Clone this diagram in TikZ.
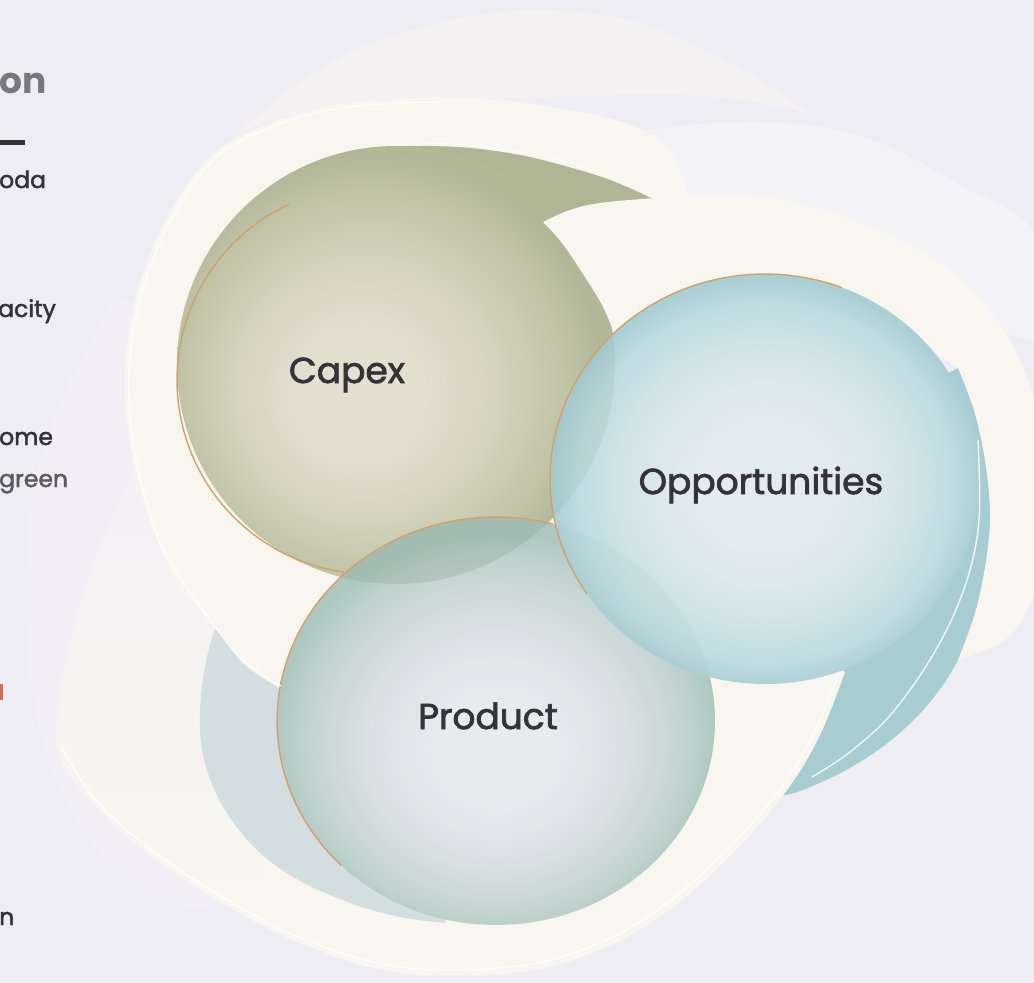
\documentclass[tikz,border=0pt]{standalone}
\usepackage{fontspec}
\setmainfont{Poppins}
\newfontfamily\labelfont{Poppins}[FakeBold=2]
\usetikzlibrary{fadings}

% palette
\definecolor{bg}{RGB}{239,237,244}
\definecolor{bglight}{RGB}{243,241,246}
\definecolor{faintpink}{RGB}{244,241,243}
\definecolor{glow}{RGB}{250,249,251}
\definecolor{cream}{RGB}{248,246,239}
\definecolor{capexL}{RGB}{227,224,208}
\definecolor{capexM}{RGB}{212,211,190}
\definecolor{capexD}{RGB}{192,195,166}
\definecolor{capexE}{RGB}{178,183,152}
\definecolor{capextail}{RGB}{176,181,150}
\definecolor{capexover}{RGB}{125,150,132}
\definecolor{oppL}{RGB}{226,236,240}
\definecolor{oppM}{RGB}{212,229,234}
\definecolor{oppD}{RGB}{190,219,225}
\definecolor{oppE}{RGB}{170,207,213}
\definecolor{oppshadow}{RGB}{167,205,211}
\definecolor{prodL}{RGB}{232,234,238}
\definecolor{prodM}{RGB}{216,224,226}
\definecolor{prodD}{RGB}{192,210,206}
\definecolor{prodE}{RGB}{174,200,193}
\definecolor{prodover}{RGB}{150,175,170}
\definecolor{prodshadow}{RGB}{211,222,224}
\definecolor{rim}{RGB}{212,160,104}
\definecolor{ink}{RGB}{52,52,56}
\definecolor{inkgrey}{RGB}{120,119,123}
\definecolor{sliver}{RGB}{205,110,90}

\pgfdeclareradialshading{capexshade}{\pgfpoint{-5bp}{-4bp}}{%
  color(0bp)=(capexL); color(6bp)=(capexL); color(15bp)=(capexM);
  color(22bp)=(capexD); color(26bp)=(capexE); color(50bp)=(capexE)}
\pgfdeclareradialshading{oppshade}{\pgfpoint{0bp}{-1bp}}{%
  color(0bp)=(oppL); color(8bp)=(oppL); color(16bp)=(oppM);
  color(22bp)=(oppD); color(25bp)=(oppE); color(50bp)=(oppE)}
\pgfdeclareradialshading{prodshade}{\pgfpoint{0bp}{-4bp}}{%
  color(0bp)=(prodL); color(7bp)=(prodL); color(15bp)=(prodM);
  color(22bp)=(prodD); color(25bp)=(prodE); color(50bp)=(prodE)}

\tikzfading[name=fadedown, top color=transparent!0, bottom color=transparent!100]

% outline of the cream band that wraps under the Product disc
\def\prodband{plot[smooth, tension=0.6] coordinates {(135,470) (95,560) (68,650) (57,747) (90,800) (143,850) (217,900) (300,943) (400,973) (520,972) (600,950) (667,912) (733,853) (787,790) (820,735) (845,672)}
  -- (800,640) -- (700,640) -- (600,700) -- (400,700) -- (280,650) -- (200,560) -- cycle}

\begin{document}
\begin{tikzpicture}[x=1pt, y=-1pt,
  lbl/.style={font=\labelfont\fontsize{36}{40}\selectfont, text=ink, inner sep=0pt, anchor=base},
  frag/.style={font=\labelfont\fontsize{23.5}{27}\selectfont, text=ink, inner sep=0pt, anchor=base west},
  rimline/.style={draw=rim, line width=1.4pt},
  gleam/.style={draw=white, line width=1.4pt, opacity=0.85},
  smoothy/.style={smooth, tension=0.6}]
\useasboundingbox (0,0) rectangle (1034,983);
\clip (0,0) rectangle (1034,983);
\fill[bg] (0,0) rectangle (1034,983);

% soft lighter haze on the left
\fill[bglight, opacity=0.5] plot[smooth cycle, tension=0.6] coordinates {(130,300) (75,370) (38,470) (25,580) (32,690) (60,790) (120,870) (220,900) (240,700) (170,480)};

% faint crescent across the top
\fill[faintpink] plot[smoothy] coordinates {(235,135) (300,82) (368,45) (450,20) (530,10) (620,18) (700,48) (760,80) (809,113)}
  -- plot[smoothy] coordinates {(809,113) (740,100) (660,94) (560,97) (470,99) (380,100) (300,112) (235,135)} -- cycle;

% white glow above the right-hand band
\fill[glow, opacity=0.45] plot[smooth cycle, tension=0.6] coordinates {(580,150) (680,126) (800,124) (880,143) (960,185) (1034,232) (1045,330) (1000,330) (930,272) (850,232) (760,207) (660,197)};

% blue tail of the Opportunities swirl
\fill[oppshadow] plot[smoothy] coordinates {(958,368) (974,410) (985,460) (990,510) (987,555) (976,610) (958,660) (930,702) (895,737) (855,765) (815,785) (785,795) (760,792)}
  -- (740,700) -- (700,600) -- (765,479) -- (900,400) -- cycle;

% cream band of the Product swirl, fading out towards the upper left
\fill[cream] \prodband;
\begin{scope}
  \clip \prodband;
  \fill[bglight, path fading=fadedown] (30,450) rectangle (260,880);
\end{scope}

% pale tail of the Product swirl
\fill[prodshadow] plot[smoothy] coordinates {(240,590) (215,630) (203,680) (200,730) (207,770) (225,810) (255,848) (295,878) (350,903) (400,917) (445,923)}
  -- (450,800) -- (350,700) -- (300,610) -- cycle;

% cream band of the Capex swirl
\fill[cream] plot[smoothy] coordinates {(283,690) (260,676) (240,660) (217,630) (195,604) (177,583) (160,548) (143,500) (132,455) (125,400) (127,345) (140,283) (167,217) (210,157) (260,127) (320,108) (380,100) (440,98) (500,100) (570,110) (630,125) (670,150) (690,200)}
  -- (600,250) -- (396,365) -- (420,600) -- (330,660) -- cycle;

% olive tail and disc of Capex
\fill[capextail] plot[smoothy] coordinates {(330,162) (380,149) (420,146) (470,148) (520,155) (565,166) (610,180) (655,200) (700,225)}
  -- (600,300) -- (450,260) -- cycle;
\shade[shading=capexshade] (396,365) circle (219pt);

% cream band of the Opportunities swirl, cutting into the Capex disc
\fill[cream] plot[smoothy] coordinates {(543,222) (570,210) (600,203) (655,198) (720,194) (780,199) (839,215) (890,236) (943,265) (985,305) (1015,350) (1034,400) (1045,470) (1045,540) (1032,600) (1005,640) (958,660)}
  -- plot[smoothy] coordinates {(958,660) (976,610) (987,555) (990,510) (985,460) (974,410) (958,368)}
  -- (900,330) -- (780,295) -- (680,310) -- (613,330)
  -- plot[smoothy] coordinates {(613,330) (602,305) (585,277) (562,243) (543,222)} -- cycle;

% Product disc
\shade[shading=prodshade] (496,721) ellipse (219pt and 204pt);
\begin{scope}
  \clip (496,721) ellipse (219pt and 204pt);
  \fill[capexover, opacity=0.24] (396,365) circle (219pt);
\end{scope}

% Opportunities disc
\shade[shading=oppshade] (765,479) ellipse (215pt and 205pt);
\begin{scope}
  \clip (765,479) ellipse (215pt and 205pt);
  \fill[capexover, opacity=0.13] (396,365) circle (219pt);
  \fill[prodover, opacity=0.08] (496,721) ellipse (219pt and 204pt);
\end{scope}

% thin gold rims
\draw[rimline] plot[domain=115:262, samples=60] ({371+194*cos(\x)},{380-194*sin(\x)});
\draw[rimline] plot[domain=75:225, samples=60] ({496+219*cos(\x)},{721-204*sin(\x)});
\draw[rimline] plot[domain=69:214, samples=60] ({765+215*cos(\x)},{479-205*sin(\x)});

% white edge highlights
\draw[gleam] plot[smoothy] coordinates {(281,686) (240,657) (197,602) (162,547) (146,500) (135,455) (129,400) (131,345) (144,285) (171,220) (213,160) (262,131) (320,112) (380,104) (440,102)};
\draw[gleam] plot[smoothy] coordinates {(62,748) (94,798) (146,846) (219,895) (301,938) (400,967) (518,966) (597,944) (663,906) (728,849) (781,788) (814,733) (838,675)};
\draw[gleam] plot[smoothy] coordinates {(978,440) (979,520) (966,583) (937,648) (893,712) (850,752) (812,777)};
\draw[white, line width=1pt, opacity=0.7] plot[smoothy] coordinates {(420,143) (470,145) (520,152) (565,162) (610,176) (650,195)};

% labels
\node[lbl] (capex) at (347,383) {Capex};
\node[lbl] (opp) at (761,494) {Opportunities};
\node[lbl] (prod) at (488,729) {Product};

% text running in from the left margin
\node[frag, font=\fontsize{36}{40}\selectfont\bfseries, text=inkgrey] (hd) at (-1,93) {on};
\coordinate (ruleL) at (0,142);
\coordinate (ruleR) at (25,142);
\draw[ink, line width=5pt] (ruleL) -- (ruleR);
\node[frag] (f1) at (-1,188) {oda};
\node[frag] (f2) at (-2,317) {acity};
\node[frag] (f3) at (-1,445) {ome};
\node[frag, text=ink!80] (f4) at (-1,487) {green};
\node[frag] (f5) at (-1,925) {n};
\fill[sliver] (0,684) rectangle (3,700);
\end{tikzpicture}
\end{document}
